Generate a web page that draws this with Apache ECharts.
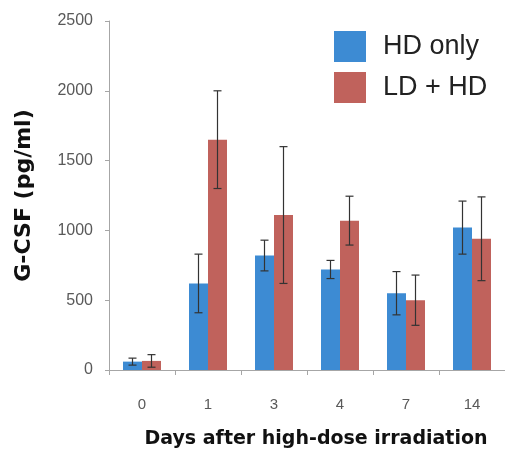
<!DOCTYPE html>
<html>
<head>
<meta charset="utf-8">
<script src="https://cdn.jsdelivr.net/npm/echarts@6/dist/echarts.min.js"></script>
<style>
  html, body { margin: 0; padding: 0; background: #fff; }
  #chart { width: 505px; height: 450px; }
</style>
</head>
<body>
<div id="chart"></div>
<script>
const days = ["0", "1", "3", "4", "7", "14"];
const hdOnly = [60, 620, 820, 720, 550, 1020];
const hdOnlyErr = [25, 210, 110, 65, 155, 190];
const ldHd = [65, 1650, 1110, 1070, 500, 940];
const ldHdErr = [45, 350, 490, 175, 180, 300];

const chart = echarts.init(document.getElementById("chart"));

const colors = {
  hd: "#3d8bd3",
  ld: "#c0625c",
  err: "#333333",
  axis: "#a6a6a6",
  label: "#595959",
  title: "#111111",
};

const barWidth = 19;

// error bar series: offset is the shift from the category centre
function errorSeries(values, errs, offset) {
  return {
    type: "custom",
    z: 10,
    data: values.map((v, i) => [i, v - errs[i], v + errs[i]]),
    renderItem: (params, api) => {
      const lo = api.coord([api.value(0), api.value(1)]);
      const hi = api.coord([api.value(0), api.value(2)]);
      const x = lo[0] + offset;
      const cap = 4;
      const style = { stroke: colors.err, lineWidth: 1.2 };
      return {
        type: "group",
        children: [
          { type: "line", shape: { x1: x, y1: lo[1], x2: x, y2: hi[1] }, style },
          { type: "line", shape: { x1: x - cap, y1: hi[1], x2: x + cap, y2: hi[1] }, style },
          { type: "line", shape: { x1: x - cap, y1: lo[1], x2: x + cap, y2: lo[1] }, style },
        ],
      };
    },
  };
}

const options = {
  animation: false,
  grid: { left: 109, right: 0, top: 21, bottom: 80, outerBoundsMode: "none" },
  legend: {
    left: 334,
    top: 31,
    orient: "vertical",
    itemWidth: 32,
    itemHeight: 31,
    itemGap: 10,
    backgroundColor: "#fff",
    padding: 0,
    textStyle: {
      fontFamily: "Liberation Sans",
      fontSize: 27,
      color: "#222",
      padding: [0, 0, 0, 12],
    },
    data: [
      { name: "HD only", icon: "rect" },
      { name: "LD + HD", icon: "rect" },
    ],
  },
  xAxis: {
    type: "category",
    data: days,
    name: "Days after high-dose irradiation",
    nameLocation: "middle",
    nameGap: 60,
    nameTextStyle: {
      fontFamily: "DejaVu Sans",
      fontWeight: "bold",
      fontSize: 19,
      color: colors.title,
      padding: [0, 0, 0, 18],
    },
    axisLine: { lineStyle: { color: colors.axis } },
    axisTick: { show: true, length: 5, lineStyle: { color: colors.axis } },
    axisLabel: {
      margin: 27,
      fontFamily: "Liberation Sans",
      fontSize: 15,
      color: colors.label,
    },
  },
  yAxis: {
    type: "value",
    min: 0,
    max: 2500,
    interval: 500,
    name: "G-CSF (pg/ml)",
    nameLocation: "middle",
    nameGap: 74,
    nameTextStyle: {
      fontFamily: "DejaVu Sans",
      fontWeight: "bold",
      fontSize: 22,
      color: colors.title,
    },
    axisLine: { show: true, lineStyle: { color: colors.axis } },
    axisTick: { show: true, length: 4, lineStyle: { color: colors.axis } },
    splitLine: { show: false },
    axisLabel: {
      margin: 16,
      fontFamily: "Liberation Sans",
      fontSize: 16,
      color: colors.label,
      formatter: (v) => String(v),
    },
  },
  series: [
    {
      name: "HD only",
      type: "bar",
      data: hdOnly,
      barWidth: barWidth,
      barGap: "0%",
      itemStyle: { color: colors.hd },
    },
    {
      name: "LD + HD",
      type: "bar",
      data: ldHd,
      barWidth: barWidth,
      barGap: "0%",
      itemStyle: { color: colors.ld },
    },
    errorSeries(hdOnly, hdOnlyErr, -barWidth / 2),
    errorSeries(ldHd, ldHdErr, barWidth / 2),
  ],
};

chart.setOption(options);
</script>
</body>
</html>
